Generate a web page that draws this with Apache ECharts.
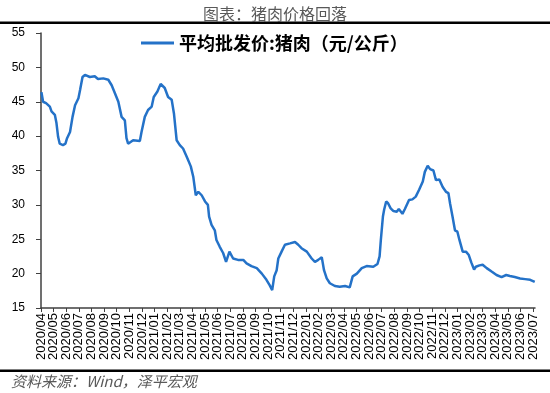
<!DOCTYPE html>
<html>
<head>
<meta charset="utf-8">
<script src="https://cdn.jsdelivr.net/npm/echarts@6/dist/echarts.min.js"></script>
<style>
html,body{margin:0;padding:0;background:#fff;}
#chart{width:550px;height:393px;}
</style>
</head>
<body>
<div id="chart"></div>
<script>
// ---- data ----
const chartTitle = '图表：猪肉价格回落';
const seriesName = '平均批发价:猪肉（元/公斤）';
const sourceText = '资料来源：Wind，泽平宏观';

const tickLabels = [
  '2020/04','2020/05','2020/06','2020/07','2020/08','2020/09','2020/10','2020/11','2020/12',
  '2021/01','2021/02','2021/03','2021/04','2021/05','2021/06','2021/07','2021/08','2021/09','2021/10','2021/11','2021/12',
  '2022/01','2022/02','2022/03','2022/04','2022/05','2022/06','2022/07','2022/08','2022/09','2022/10','2022/11','2022/12',
  '2023/01','2023/02','2023/03','2023/04','2023/05','2023/06','2023/07'
];
const yTicks = [15, 20, 25, 30, 35, 40, 45, 50, 55];

const dates = [
  '2020-04-02','2020-04-06','2020-04-13','2020-04-22','2020-04-26','2020-05-04','2020-05-08','2020-05-12','2020-05-16','2020-05-24',
  '2020-05-30','2020-06-03','2020-06-10','2020-06-16','2020-06-22','2020-06-30','2020-07-04','2020-07-10','2020-07-16','2020-07-28',
  '2020-08-09','2020-08-17','2020-08-30','2020-09-11','2020-09-19','2020-09-27','2020-10-05','2020-10-13','2020-10-21','2020-10-25',
  '2020-10-29','2020-11-10','2020-11-26','2020-11-30','2020-12-08','2020-12-16','2020-12-25','2020-12-30','2021-01-08','2021-01-16',
  '2021-01-26','2021-02-03','2021-02-11','2021-02-16','2021-02-22','2021-03-01','2021-03-09','2021-03-18','2021-03-28','2021-04-03',
  '2021-04-09','2021-04-15','2021-04-23','2021-05-01','2021-05-08','2021-05-11','2021-05-17','2021-05-25','2021-05-29','2021-06-06',
  '2021-06-14','2021-06-21','2021-06-29','2021-07-08','2021-07-20','2021-08-02','2021-08-10','2021-08-22','2021-09-04','2021-09-16',
  '2021-09-27','2021-10-05','2021-10-11','2021-10-16','2021-10-22','2021-10-26','2021-11-03','2021-11-11','2021-11-23','2021-12-05',
  '2021-12-13','2021-12-21','2022-01-03','2022-01-15','2022-01-23','2022-01-31','2022-02-08','2022-02-13','2022-02-19','2022-02-26',
  '2022-03-10','2022-03-22','2022-04-04','2022-04-15','2022-04-22','2022-05-02','2022-05-14','2022-05-26','2022-06-11','2022-06-21',
  '2022-06-26','2022-06-29','2022-07-04','2022-07-07','2022-07-12','2022-07-17','2022-07-23','2022-07-30','2022-08-07','2022-08-12',
  '2022-08-21','2022-08-27','2022-09-06','2022-09-14','2022-09-22','2022-09-30','2022-10-09','2022-10-14','2022-10-21','2022-10-27',
  '2022-11-04','2022-11-10','2022-11-18','2022-11-26','2022-12-04','2022-12-10','2022-12-14','2022-12-20','2022-12-26','2023-01-01',
  '2023-01-06','2023-01-14','2023-01-22','2023-01-29','2023-02-04','2023-02-10','2023-02-14','2023-02-22','2023-03-01','2023-03-11',
  '2023-03-23','2023-04-04','2023-04-16','2023-04-27','2023-05-06','2023-05-18','2023-05-31','2023-06-12','2023-06-24','2023-07-05'
];
const prices = [
  46.4,45.0,44.8,44.3,43.6,43.1,41.9,39.9,38.9,38.7,
  38.9,39.7,40.6,42.8,44.5,45.5,46.7,48.6,48.9,48.6,
  48.7,48.3,48.4,48.2,47.4,46.2,45.0,42.8,42.3,39.7,
  38.9,39.4,39.3,40.6,42.8,43.8,44.3,45.7,46.5,47.6,
  47.0,45.7,45.3,43.3,39.4,38.7,38.2,37.0,35.6,34.1,
  31.4,31.9,31.4,30.5,30.0,28.3,27.1,26.3,24.9,23.9,
  23.0,21.7,23.2,22.2,22.0,22.0,21.5,21.1,20.8,20.0,
  19.1,18.3,17.6,19.6,20.5,22.2,23.2,24.2,24.4,24.6,
  24.2,23.7,23.2,22.2,21.7,22.0,22.4,20.5,19.3,18.6,
  18.2,18.1,18.2,18.0,19.6,20.0,20.8,21.1,21.0,21.4,
  22.5,24.9,28.3,29.3,30.5,30.2,29.5,29.1,29.0,29.4,
  28.7,29.4,30.7,30.8,31.2,32.2,33.4,34.8,35.7,35.2,
  35.0,33.6,33.7,32.6,31.9,31.7,30.2,28.3,26.3,26.1,
  24.9,23.2,23.2,22.7,21.6,20.6,21.0,21.2,21.3,20.8,
  20.3,19.8,19.5,19.8,19.65,19.5,19.3,19.2,19.1,18.8
];

// months elapsed since 2020-04-01 (fractional), used as the x value
function monthIndex(d) {
  const p = d.split('-').map(Number);
  const dim = new Date(p[0], p[1], 0).getDate();
  return (p[0] - 2020) * 12 + (p[1] - 4) + (p[2] - 1) / dim;
}
const seriesData = dates.map((d, i) => [monthIndex(d), prices[i]]);

// axis extent (months) and plot geometry
const xMaxMonths = 39.15;
const plotLeft = 41, plotRight = 15, plotTop = 33, plotBottom = 85, W = 550;
const plotWidth = W - plotLeft - plotRight;
const monthPx = plotWidth / xMaxMonths;
// the month-label axis spans exactly from the first to the last tick month
const labelRight = W - plotLeft - monthPx * (tickLabels.length - 1);

const chart = echarts.init(document.getElementById('chart'), null, {renderer: 'canvas'});
const axisColor = '#404040';
const cjk = '"Noto Sans CJK SC", "Noto Sans", sans-serif';

chart.setOption({
  animation: false,
  backgroundColor: '#fff',
  title: {
    text: chartTitle,
    left: 'center',
    top: 1,
    textStyle: {fontFamily: cjk, fontSize: 16, fontWeight: 'normal', color: '#595959'}
  },
  legend: {
    left: 136,
    top: 29,
    icon: 'rect',
    itemWidth: 33,
    itemHeight: 3,
    itemGap: 10,
    textStyle: {fontFamily: cjk, fontSize: 18, fontWeight: 'bold', color: '#000'},
    data: [seriesName]
  },
  grid: [
    {left: plotLeft, right: plotRight, top: plotTop, bottom: plotBottom, containLabel: false, outerBoundsMode: 'none'},
    {left: plotLeft, right: labelRight, top: plotTop, bottom: plotBottom, containLabel: false, outerBoundsMode: 'none'}
  ],
  xAxis: [
    {
      type: 'value',
      gridIndex: 0,
      min: 0,
      max: xMaxMonths,
      axisLine: {show: true, onZero: false, lineStyle: {color: axisColor, width: 1.5}},
      axisTick: {show: false},
      axisLabel: {show: false},
      splitLine: {show: false}
    },
    {
      type: 'category',
      gridIndex: 1,
      data: tickLabels,
      boundaryGap: false,
      axisLine: {show: false},
      axisTick: {show: true, length: 4, interval: 0, lineStyle: {color: axisColor}},
      splitLine: {show: false},
      axisLabel: {
        interval: 0,
        rotate: 90,
        margin: 5,
        fontFamily: '"Liberation Sans", sans-serif',
        fontSize: 13,
        color: '#000'
      }
    }
  ],
  yAxis: [
    {
      type: 'value',
      gridIndex: 0,
      min: yTicks[0],
      max: yTicks[yTicks.length - 1],
      interval: 5,
      axisLine: {show: true, lineStyle: {color: axisColor, width: 1.5}},
      axisTick: {show: true, length: 5, lineStyle: {color: axisColor}},
      splitLine: {show: false},
      axisLabel: {
        margin: 16,
        fontFamily: '"Liberation Sans", sans-serif',
        fontSize: 12,
        color: '#000'
      }
    },
    {type: 'value', gridIndex: 1, show: false, min: yTicks[0], max: yTicks[yTicks.length - 1]}
  ],
  series: [{
    name: seriesName,
    type: 'line',
    xAxisIndex: 0,
    yAxisIndex: 0,
    data: seriesData,
    showSymbol: false,
    symbol: 'none',
    smooth: false,
    itemStyle: {color: '#2472C8'},
    lineStyle: {color: '#2472C8', width: 2.5}
  }],
  graphic: [
    {type: 'rect', left: 0, top: 21.5, shape: {width: 550, height: 2.5}, style: {fill: '#000'}},
    {type: 'rect', left: 0, top: 369.5, shape: {width: 550, height: 2.5}, style: {fill: '#000'}},
    {
      type: 'text', left: 11, top: 374,
      style: {text: sourceText, font: 'italic 15px "Noto Sans CJK SC", sans-serif', fill: '#595959'}
    }
  ]
});
</script>
</body>
</html>
